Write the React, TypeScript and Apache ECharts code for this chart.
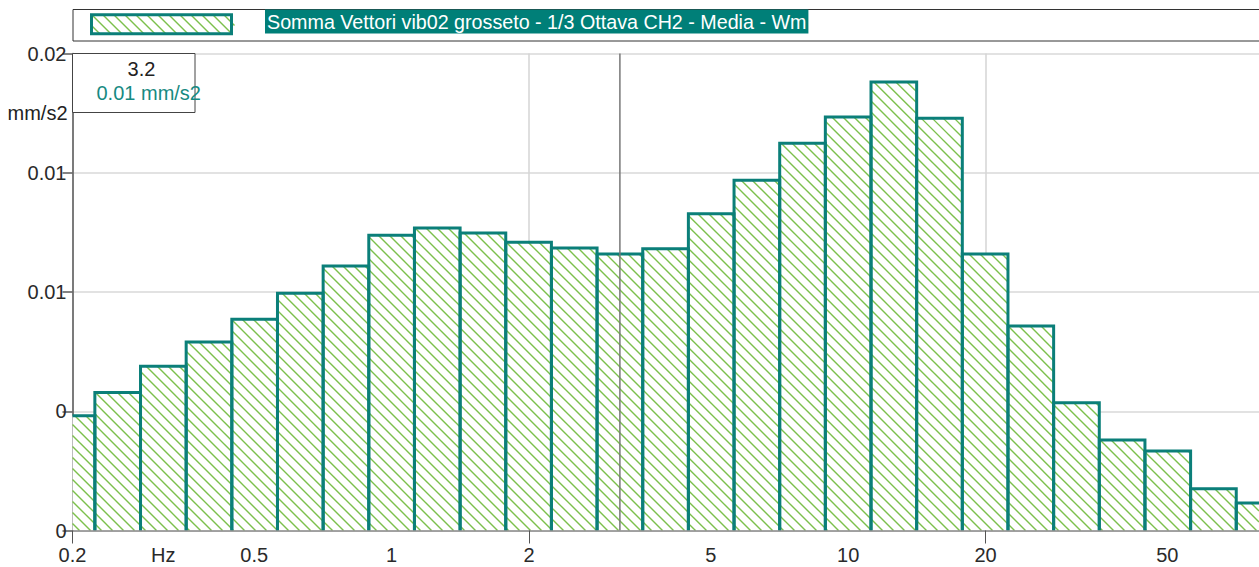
import React, { useEffect, useRef } from "react";
import * as echarts from "echarts";

// 1/3-octave nominal band centres (Hz) and the averaged level of each band (mm/s2)
const BANDS = ["0.2", "0.25", "0.315", "0.4", "0.5", "0.63", "0.8", "1", "1.25", "1.6", "2", "2.5", "3.15", "4", "5", "6.3", "8", "10", "12.5", "16", "20", "25", "31.5", "40", "50", "63", "80"];
const LEVELS = [0.00481, 0.00579, 0.00689, 0.0079, 0.00886, 0.00995, 0.01109, 0.01238, 0.01268, 0.01247, 0.01209, 0.01184, 0.01159, 0.01181, 0.01328, 0.01469, 0.01624, 0.01734, 0.01881, 0.01728, 0.01159, 0.00857, 0.00536, 0.00379, 0.00333, 0.00175, 0.00115];

const SERIES_NAME = "Somma Vettori vib02 grosseto - 1/3 Ottava CH2 - Media - Wm";
const UNIT = "mm/s2";

// frequency axis (Hz)
const F_MIN = 0.2;
const F_MAX = 79.4;
const GRID_FREQS = [0.2, 2, 20];
const LABEL_FREQS = [0.2, 0.3162, 0.5, 1, 2, 5, 10, 20, 50];
const LABEL_TEXTS = ["0.2", "Hz", "0.5", "1", "2", "5", "10", "20", "50"];

// level axis
const Y_MIN = 0;
const Y_MAX = 0.02;
const Y_STEP = 0.005;

// cursor readout
const CURSOR_FREQ = 3.1623;

const TEAL = "#0b7f79";
const HATCH = "#7cc04c";
const FONT = "'Liberation Sans', Arial, Helvetica, sans-serif";
const HATCH_STEP = 11;

const lg = (f: number) => Math.log10(f);

// diagonal "\" hatch segments clipped to a rectangle
function hatchLines(x0: number, y0: number, x1: number, y1: number, extra: any) {
  const out: any[] = [];
  const kMin = Math.ceil((y0 - x1) / HATCH_STEP);
  const kMax = Math.floor((y1 - x0) / HATCH_STEP);
  for (let k = kMin; k <= kMax; k++) {
    const c = k * HATCH_STEP;
    const xs = Math.max(x0, y0 - c);
    const xe = Math.min(x1, y1 - c);
    if (xe - xs > 0.3) {
      out.push({
        type: "line",
        silent: true,
        ...extra,
        shape: { x1: xs, y1: xs + c, x2: xe, y2: xe + c },
        style: { stroke: HATCH, lineWidth: 1.4 },
      });
    }
  }
  return out;
}

const truncate2 = (v: number) => (Math.floor(v * 100 + 1e-9) / 100).toString();

export default function App() {
  const ref = useRef<HTMLDivElement>(null);

  useEffect(() => {
    if (!ref.current) return;
    const chart = echarts.init(ref.current, undefined, { renderer: "svg" });

    const barData = BANDS.map((b, i) => [Math.round(10 * lg(parseFloat(b))), LEVELS[i]]);

    const cursorBand = Math.round(10 * lg(CURSOR_FREQ));
    const cursorIdx = barData.findIndex((d) => d[0] === cursorBand);
    const cursorLevel = cursorIdx >= 0 ? LEVELS[cursorIdx] : 0;

    const labelLogs = LABEL_FREQS.map(lg);
    const gridLogs = GRID_FREQS.map(lg);

    const xLabel = (v: number) => {
      let best = 0;
      labelLogs.forEach((l, i) => {
        if (Math.abs(l - v) < Math.abs(labelLogs[best] - v)) best = i;
      });
      return LABEL_TEXTS[best];
    };

    const renderBar = (params: any, api: any) => {
      const band = api.value(0);
      const v = api.value(1);
      const lo = api.coord([(band - 0.5) / 10, 0]);
      const hi = api.coord([(band + 0.5) / 10, v]);
      const cs = params.coordSys;
      const left = cs.x;
      const right = cs.x + cs.width;
      const x0 = Math.max(lo[0], left);
      const x1 = Math.min(hi[0], right);
      if (x1 <= x0) return null;
      const yb = lo[1];
      const yt = hi[1];
      const pts: number[][] = [];
      if (lo[0] >= left - 0.5) pts.push([x0, yb]);
      pts.push([x0, yt], [x1, yt]);
      if (hi[0] <= right + 0.5) pts.push([x1, yb]);
      return {
        type: "group",
        children: [
          { type: "rect", z2: 0, silent: true, shape: { x: x0, y: yt, width: x1 - x0, height: yb - yt }, style: { fill: "#ffffff" } },
          ...hatchLines(x0, yt, x1, yb, { z2: 1 }),
          { type: "polyline", z2: 2, silent: true, shape: { points: pts }, style: { stroke: TEAL, lineWidth: 3, fill: "none", lineJoin: "miter" } },
        ],
      };
    };

    // legend swatch
    const sw = { x: 91.5, y: 14.8, w: 140, h: 19 };
    const swatch = [
      { type: "rect", z: 11, shape: { x: sw.x, y: sw.y, width: sw.w, height: sw.h }, style: { fill: "#fff" } },
      ...hatchLines(sw.x, sw.y, sw.x + sw.w + 3, sw.y + sw.h, { z: 12 }),
      { type: "rect", z: 13, shape: { x: sw.x, y: sw.y, width: sw.w, height: sw.h }, style: { fill: "none", stroke: TEAL, lineWidth: 3 } },
    ];

    chart.setOption({
      animation: false,
      backgroundColor: "#ffffff",
      textStyle: { fontFamily: FONT },
      grid: { left: 72.5, right: 0, top: 53.5, bottom: 36.5, containLabel: false, outerBoundsMode: "none" },
      xAxis: [
        {
          type: "value",
          position: "top",
          min: lg(F_MIN),
          max: lg(F_MAX),
          z: 0,
          axisLine: { show: false, onZero: false },
          axisTick: { show: false, customValues: gridLogs },
          axisLabel: { show: false, customValues: gridLogs },
          splitLine: { show: true, lineStyle: { color: "#d4d4d4", width: 1.5 } },
        },
        {
          type: "value",
          position: "bottom",
          min: lg(F_MIN),
          max: lg(F_MAX),
          z: 5,
          axisLine: { show: true, onZero: false, lineStyle: { color: "#8a8a8a", width: 1.5 } },
          axisTick: { show: true, customValues: gridLogs, length: 13, lineStyle: { color: "#555", width: 1 } },
          axisLabel: { customValues: labelLogs, formatter: xLabel, fontSize: 20, color: "#2a2a2a", margin: 14, fontFamily: FONT },
          splitLine: { show: false },
        },
      ],
      yAxis: {
        type: "value",
        min: Y_MIN,
        max: Y_MAX,
        interval: Y_STEP,
        axisLine: { show: true, onZero: false, lineStyle: { color: "#5a5a5a", width: 1.5 } },
        axisTick: { show: true, length: 10, lineStyle: { color: "#5a5a5a", width: 1.5 } },
        axisLabel: { formatter: truncate2, fontSize: 20, color: "#2a2a2a", margin: 6, fontFamily: FONT },
        splitLine: { show: true, lineStyle: { color: "#d8d8d8", width: 1.5 } },
      },
      series: [
        {
          name: SERIES_NAME,
          type: "custom",
          xAxisIndex: 1,
          renderItem: renderBar,
          data: barData,
          z: 2,
          silent: true,
        },
        {
          name: "cursor",
          type: "line",
          xAxisIndex: 1,
          data: [
            [lg(CURSOR_FREQ), Y_MIN],
            [lg(CURSOR_FREQ), Y_MAX],
          ],
          symbol: "none",
          lineStyle: { color: "#777", width: 1.5 },
          z: 4,
          silent: true,
        },
      ],
      graphic: [
        {
          type: "rect",
          z: 10,
          shape: { x: 73, y: 9.5, width: 1220, height: 31.5 },
          style: { fill: "#fff", stroke: "#333", lineWidth: 1 },
        },
        ...swatch,
        {
          type: "text",
          z: 11,
          x: 265,
          y: 21.5,
          style: {
            text: SERIES_NAME,
            fill: "#ffffff",
            font: `19.7px ${FONT}`,
            verticalAlign: "middle",
            backgroundColor: "#007f78",
            padding: [2, 2, 2, 2],
          },
        },
        {
          type: "rect",
          z: 10,
          shape: { x: 72.5, y: 53.5, width: 122.5, height: 59 },
          style: { fill: "#fff", stroke: "#444", lineWidth: 1 },
        },
        {
          type: "text",
          z: 11,
          x: 141.5,
          y: 69,
          style: { text: CURSOR_FREQ.toFixed(1), fill: "#222", font: `20px ${FONT}`, align: "center", verticalAlign: "middle" },
        },
        {
          type: "text",
          z: 11,
          x: 96.5,
          y: 93,
          style: { text: `${truncate2(cursorLevel)} ${UNIT}`, fill: "#178a82", font: `20px ${FONT}`, align: "left", verticalAlign: "middle" },
        },
        {
          type: "text",
          z: 11,
          x: 67.5,
          y: 113,
          style: { text: UNIT, fill: "#222", font: `20px ${FONT}`, align: "right", verticalAlign: "middle" },
        },
      ],
    });

    return () => chart.dispose();
  }, []);

  return <div ref={ref} style={{ position: "absolute", left: 0, top: 0, width: 1259, height: 567 }} />;
}
